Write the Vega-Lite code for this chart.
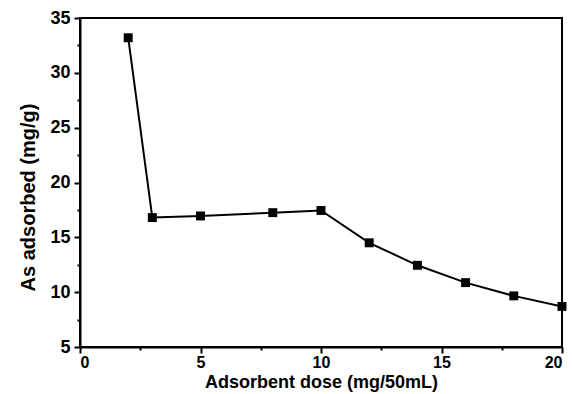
{
  "$schema": "https://vega.github.io/schema/vega-lite/v6.json",
  "width": 482,
  "height": 329,
  "autosize": {"type": "none"},
  "padding": {"left": 80, "top": 18, "right": 11, "bottom": 47},
  "background": "white",
  "config": {
    "view": {"stroke": "black", "strokeWidth": 2},
    "axis": {
      "domainColor": "black",
      "domainWidth": 2,
      "tickColor": "black",
      "tickWidth": 2,
      "grid": false,
      "labelFont": "Liberation Sans",
      "labelFontWeight": "bold",
      "labelFontSize": 17,
      "labelColor": "black",
      "titleFont": "Liberation Sans",
      "titleFontWeight": "bold",
      "titleColor": "black"
    }
  },
  "data": {
    "values": [
      {"dose": 2, "as": 33.2},
      {"dose": 3, "as": 16.8},
      {"dose": 5, "as": 16.95},
      {"dose": 8, "as": 17.25},
      {"dose": 10, "as": 17.45},
      {"dose": 12, "as": 14.5},
      {"dose": 14, "as": 12.45},
      {"dose": 16, "as": 10.87},
      {"dose": 18, "as": 9.66},
      {"dose": 20, "as": 8.7}
    ]
  },
  "encoding": {
    "x": {
      "field": "dose",
      "type": "quantitative",
      "scale": {"domain": [0, 20], "nice": false, "zero": false},
      "axis": {
        "title": "Adsorbent dose (mg/50mL)",
        "titleFontSize": 18,
        "titleBaseline": "alphabetic",
        "titleY": 40,
        "values": [0, 2.5, 5, 7.5, 10, 12.5, 15, 17.5, 20],
        "labelExpr": "datum.value % 5 === 0 ? datum.label : ''",
        "labelFontSize": 16,
        "tickSize": {"condition": {"test": "datum.value % 5 === 0", "value": 6}, "value": 3},
        "labelPadding": 1
      }
    },
    "y": {
      "field": "as",
      "type": "quantitative",
      "scale": {"domain": [5, 35], "nice": false, "zero": false},
      "axis": {
        "title": "As adsorbed (mg/g)",
        "titleFontSize": 20,
        "titleBaseline": "alphabetic",
        "titleX": -46,
        "titleY": 179,
        "values": [5, 7.5, 10, 12.5, 15, 17.5, 20, 22.5, 25, 27.5, 30, 32.5, 35],
        "labelExpr": "datum.value % 5 === 0 ? datum.label : ''",
        "labelFontSize": 18,
        "tickSize": {"condition": {"test": "datum.value % 5 === 0", "value": 6}, "value": 3},
        "labelPadding": 4
      }
    }
  },
  "layer": [
    {"mark": {"type": "line", "color": "black", "strokeWidth": 2}},
    {"mark": {"type": "square", "color": "black", "size": 80, "opacity": 1, "filled": true}}
  ]
}
